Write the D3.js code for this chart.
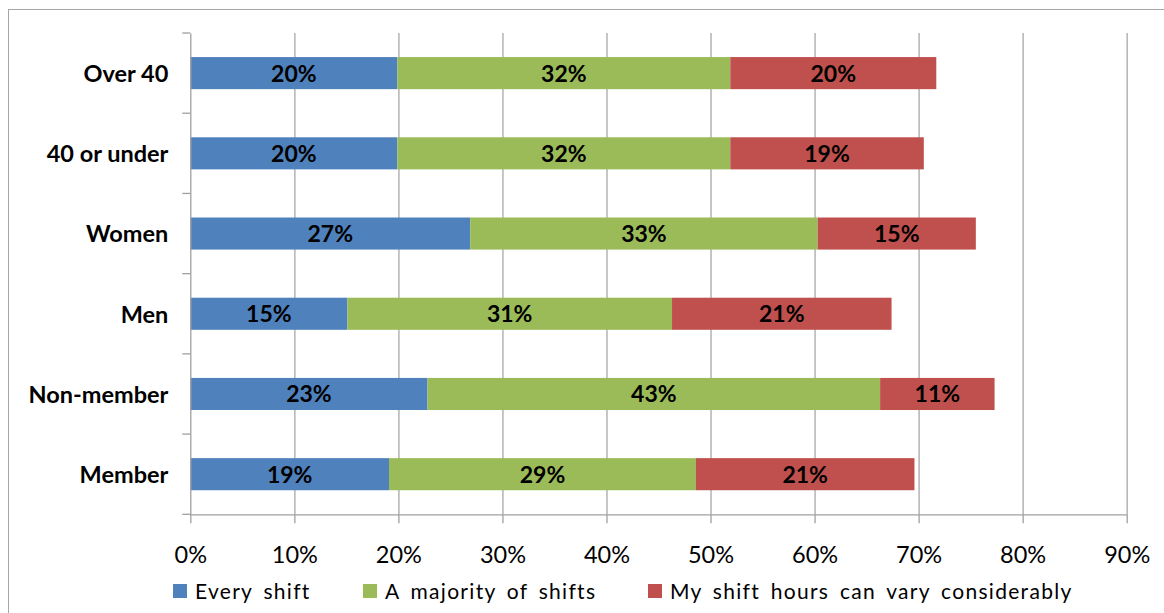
<!DOCTYPE html>
<html>
<head>
<meta charset="utf-8">
<script src="https://cdn.jsdelivr.net/npm/d3@7"></script>
<style>
  html, body { margin: 0; padding: 0; background: #fff; }
  svg { display: block; font-family: Lato, "Open Sans", sans-serif; }
</style>
</head>
<body>
<svg id="chart" width="1164" height="613"></svg>
<script>
// ---- data ----
const categories = ["Over 40", "40 or under", "Women", "Men", "Non-member", "Member"];
const seriesNames = ["Every shift", "A majority of shifts", "My shift hours can vary considerably"];
const everyShift = [19.9, 19.9, 26.9, 15.1, 22.8, 19.1];
const majorityShifts = [32.0, 32.0, 33.4, 31.2, 43.5, 29.5];
const shiftVary = [19.8, 18.6, 15.2, 21.1, 11.0, 21.0];
const labelEvery = ["20%", "20%", "27%", "15%", "23%", "19%"];
const labelMajority = ["32%", "32%", "33%", "31%", "43%", "29%"];
const labelVary = ["20%", "19%", "15%", "21%", "11%", "21%"];
const xTicks = [0, 10, 20, 30, 40, 50, 60, 70, 80, 90];
const colors = ["#4F81BD", "#9BBB59", "#C0504D"];

(function () {
const svg = d3.select("#chart");

// chart border (extends beyond the visible area right and bottom)
svg.append("rect").attr("x", 8.5).attr("y", 9.5).attr("width", 1200).attr("height", 700)
  .attr("fill", "none").attr("stroke", "#a6a6a6").attr("stroke-width", 1);

const pLeft = 190.3, pRight = 1126.7, pTop = 33, pBottom = 514.3;
const x = d3.scaleLinear().domain([0, 90]).range([pLeft, pRight]);
const y = d3.scaleBand().domain(categories).range([pTop, pBottom]).paddingInner(0.6).paddingOuter(0.3);

// gridlines
const grid = svg.append("g").attr("transform", `translate(0,${pBottom})`)
  .call(d3.axisBottom(x).tickValues(xTicks.slice(1)).tickSize(-(pBottom - pTop)).tickFormat(""));
grid.select(".domain").remove();
grid.selectAll("line").attr("stroke", "#b8b8b8").attr("stroke-width", 1.6);

// bars
const rows = categories.map((c, i) => ({
  cat: c,
  vals: [everyShift[i], majorityShifts[i], shiftVary[i]],
  labels: [labelEvery[i], labelMajority[i], labelVary[i]]
}));
rows.forEach(r => {
  let acc = 0;
  r.vals.forEach((v, k) => {
    const x0 = acc, x1 = acc + v;
    acc = x1;
    svg.append("rect")
      .attr("x", x(x0)).attr("y", y(r.cat))
      .attr("width", x(x1) - x(x0)).attr("height", y.bandwidth())
      .attr("fill", colors[k]);
    svg.append("text")
      .attr("x", (x(x0) + x(x1)) / 2).attr("y", y(r.cat) + y.bandwidth() / 2 + 8.5)
      .attr("text-anchor", "middle").attr("font-weight", "bold").attr("font-size", 23)
      .attr("fill", "#000").text(r.labels[k]);
  });
});

// bottom axis
const xAxis = svg.append("g").attr("transform", `translate(0,${pBottom})`)
  .call(d3.axisBottom(x).tickValues(xTicks).tickSize(9).tickSizeOuter(0).tickFormat(d => d + "%"));
xAxis.select(".domain").attr("stroke", "#a0a0a0").attr("stroke-width", 1.3);
xAxis.selectAll("line").attr("stroke", "#a0a0a0").attr("stroke-width", 1.3);
xAxis.selectAll("text").attr("font-size", 23.5).attr("fill", "#000")
  .attr("font-family", "Lato, 'Open Sans', sans-serif")
  .attr("y", 48.5).attr("dy", 0);

// left axis
const yAxis = svg.append("g").attr("transform", `translate(${pLeft},0)`)
  .call(d3.axisLeft(y).tickSize(0).tickPadding(22));
yAxis.select(".domain").attr("stroke", "#a0a0a0").attr("stroke-width", 1.3);
yAxis.selectAll("text").attr("font-size", 23.5).attr("font-weight", "bold").attr("fill", "#000")
  .attr("font-family", "Lato, 'Open Sans', sans-serif").attr("dy", 8.8);
// boundary ticks
const bounds = d3.range(categories.length + 1).map(i => pTop + i * y.step());
svg.append("g").selectAll("line").data(bounds).join("line")
  .attr("x1", pLeft - 8).attr("x2", pLeft).attr("y1", d => d).attr("y2", d => d)
  .attr("stroke", "#a0a0a0").attr("stroke-width", 1.3);

// legend
const legendX = [173, 363, 648];
const lg = svg.append("g");
seriesNames.forEach((s, i) => {
  lg.append("rect").attr("x", legendX[i]).attr("y", 584).attr("width", 14).attr("height", 14).attr("fill", colors[i]);
  lg.append("text").attr("x", legendX[i] + 22).attr("y", 599)
    .attr("font-size", 21).attr("letter-spacing", 1.3).attr("word-spacing", 4)
    .attr("fill", "#000").text(s);
});
})();
</script>
</body>
</html>
